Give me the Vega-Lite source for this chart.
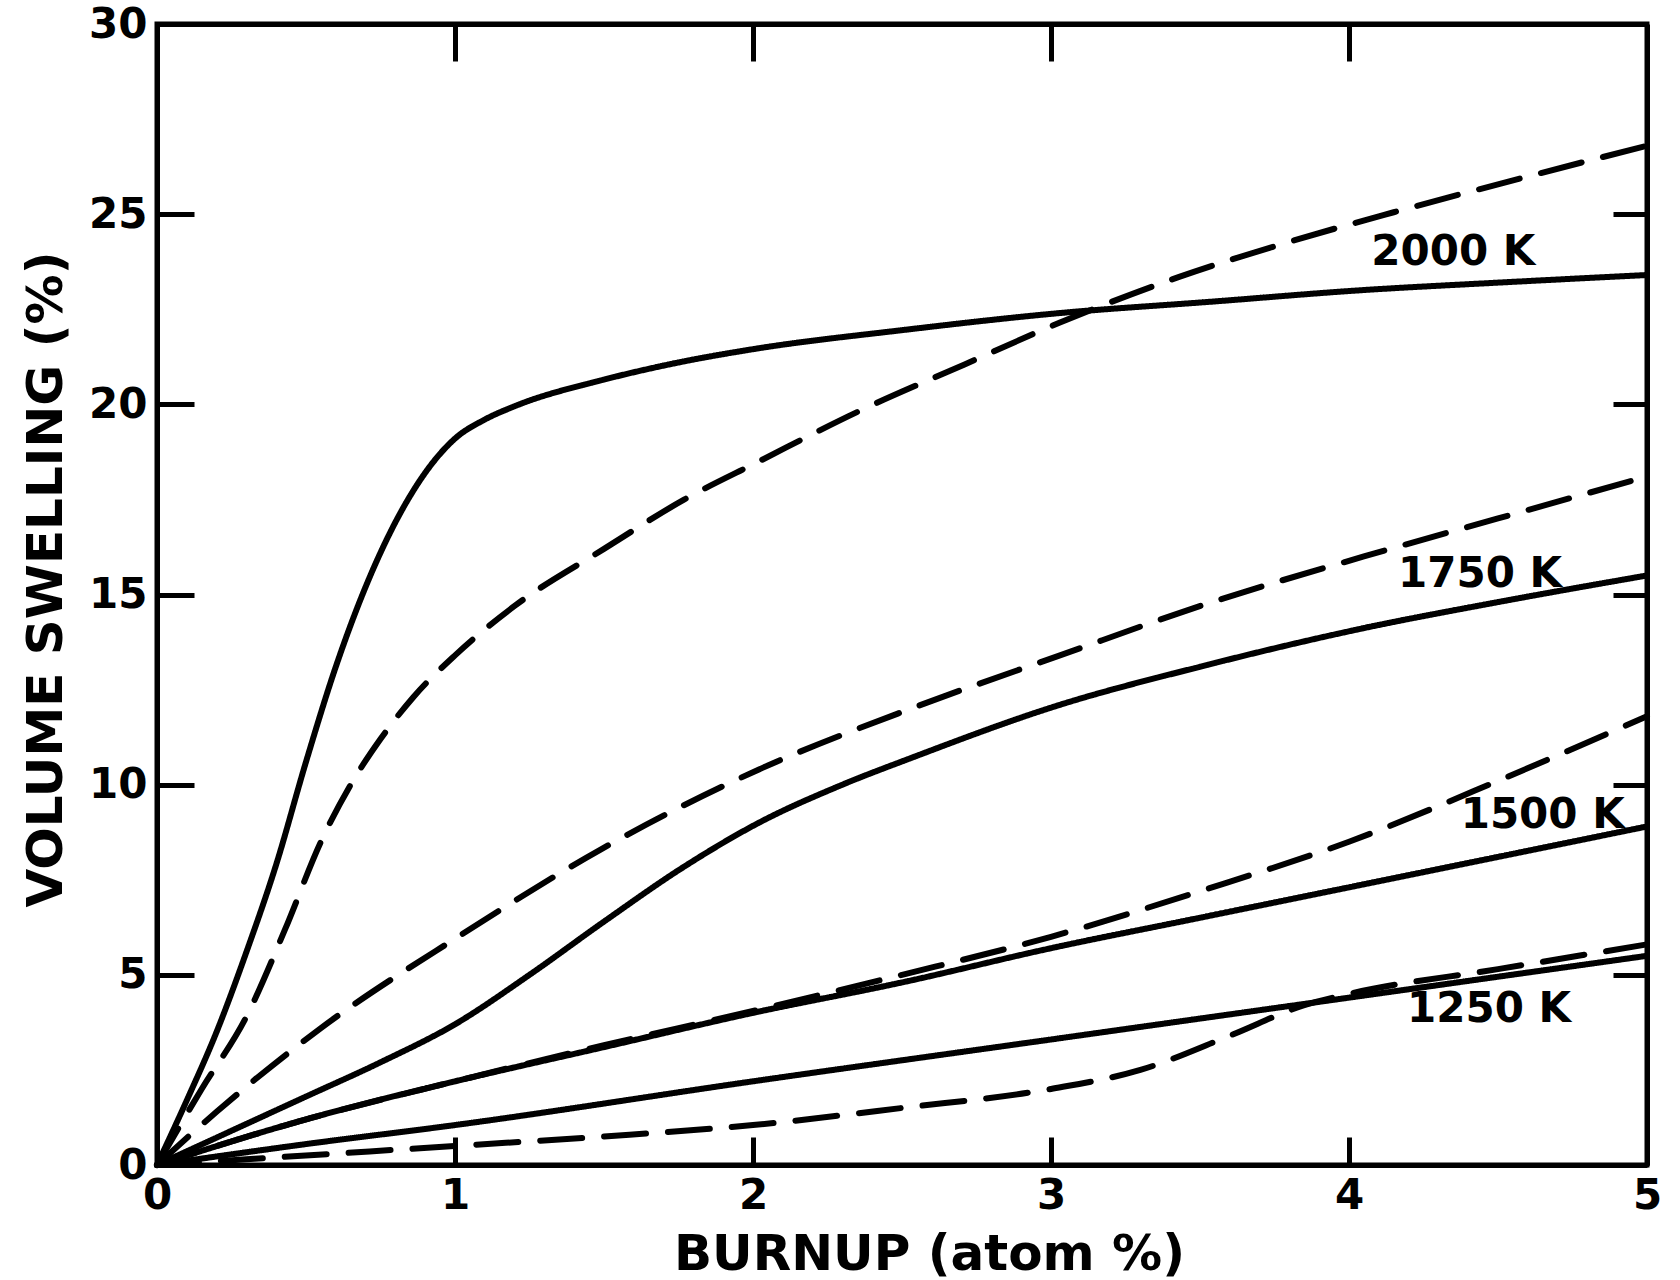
{
  "$schema": "https://vega.github.io/schema/vega-lite/v6.json",
  "width": 1490,
  "height": 1141,
  "autosize": {"type": "none"},
  "padding": {"left": 157, "top": 24, "right": 33, "bottom": 115},
  "background": "white",
  "config": {
    "view": {"stroke": "black", "strokeWidth": 5},
    "axis": {
      "grid": false,
      "domain": true,
      "domainColor": "black",
      "domainWidth": 5,
      "tickColor": "black",
      "tickWidth": 5,
      "labelColor": "black",
      "titleColor": "black",
      "labelFont": "DejaVu Sans",
      "titleFont": "DejaVu Sans",
      "labelFontWeight": "bold",
      "titleFontWeight": "bold",
      "labelFontSize": 42,
      "titleFontSize": 50,
      "labelFlush": false,
      "labelOverlap": false
    }
  },
  "datasets": {
    "curves": [
      {"g": "2000s", "k": "solid", "x": 0, "y": 0},
      {"g": "2000s", "k": "solid", "x": 0.1, "y": 1.7},
      {"g": "2000s", "k": "solid", "x": 0.2, "y": 3.5},
      {"g": "2000s", "k": "solid", "x": 0.3, "y": 5.6},
      {"g": "2000s", "k": "solid", "x": 0.4, "y": 7.9},
      {"g": "2000s", "k": "solid", "x": 0.5, "y": 10.6},
      {"g": "2000s", "k": "solid", "x": 0.6, "y": 13.1},
      {"g": "2000s", "k": "solid", "x": 0.7, "y": 15.2},
      {"g": "2000s", "k": "solid", "x": 0.8, "y": 16.9},
      {"g": "2000s", "k": "solid", "x": 0.9, "y": 18.2},
      {"g": "2000s", "k": "solid", "x": 1.0, "y": 19.1},
      {"g": "2000s", "k": "solid", "x": 1.1, "y": 19.6},
      {"g": "2000s", "k": "solid", "x": 1.2, "y": 19.95},
      {"g": "2000s", "k": "solid", "x": 1.5, "y": 20.65},
      {"g": "2000s", "k": "solid", "x": 1.75, "y": 21.1},
      {"g": "2000s", "k": "solid", "x": 2.0, "y": 21.45},
      {"g": "2000s", "k": "solid", "x": 2.5, "y": 21.95},
      {"g": "2000s", "k": "solid", "x": 3.03, "y": 22.4},
      {"g": "2000s", "k": "solid", "x": 3.54, "y": 22.7},
      {"g": "2000s", "k": "solid", "x": 4.04, "y": 23.0},
      {"g": "2000s", "k": "solid", "x": 4.5, "y": 23.2},
      {"g": "2000s", "k": "solid", "x": 5.0, "y": 23.4},

      {"g": "2000d", "k": "dashed", "x": 0, "y": 0},
      {"g": "2000d", "k": "dashed", "x": 0.15, "y": 2.0},
      {"g": "2000d", "k": "dashed", "x": 0.3, "y": 3.9},
      {"g": "2000d", "k": "dashed", "x": 0.43, "y": 6.2},
      {"g": "2000d", "k": "dashed", "x": 0.55, "y": 8.5},
      {"g": "2000d", "k": "dashed", "x": 0.65, "y": 10.0},
      {"g": "2000d", "k": "dashed", "x": 0.75, "y": 11.2},
      {"g": "2000d", "k": "dashed", "x": 0.86, "y": 12.3},
      {"g": "2000d", "k": "dashed", "x": 1.0, "y": 13.4},
      {"g": "2000d", "k": "dashed", "x": 1.2, "y": 14.7},
      {"g": "2000d", "k": "dashed", "x": 1.5, "y": 16.2},
      {"g": "2000d", "k": "dashed", "x": 1.77, "y": 17.5},
      {"g": "2000d", "k": "dashed", "x": 2.02, "y": 18.5},
      {"g": "2000d", "k": "dashed", "x": 2.35, "y": 19.8},
      {"g": "2000d", "k": "dashed", "x": 2.71, "y": 21.05},
      {"g": "2000d", "k": "dashed", "x": 3.03, "y": 22.15},
      {"g": "2000d", "k": "dashed", "x": 3.43, "y": 23.35},
      {"g": "2000d", "k": "dashed", "x": 3.79, "y": 24.25},
      {"g": "2000d", "k": "dashed", "x": 4.15, "y": 25.05},
      {"g": "2000d", "k": "dashed", "x": 4.58, "y": 25.95},
      {"g": "2000d", "k": "dashed", "x": 5.0, "y": 26.8},

      {"g": "1750s", "k": "solid", "x": 0, "y": 0},
      {"g": "1750s", "k": "solid", "x": 0.25, "y": 0.9},
      {"g": "1750s", "k": "solid", "x": 0.5, "y": 1.8},
      {"g": "1750s", "k": "solid", "x": 0.75, "y": 2.7},
      {"g": "1750s", "k": "solid", "x": 1.0, "y": 3.7},
      {"g": "1750s", "k": "solid", "x": 1.25, "y": 5.0},
      {"g": "1750s", "k": "solid", "x": 1.5, "y": 6.4},
      {"g": "1750s", "k": "solid", "x": 1.77, "y": 7.85},
      {"g": "1750s", "k": "solid", "x": 2.02, "y": 9.0},
      {"g": "1750s", "k": "solid", "x": 2.3, "y": 10.0},
      {"g": "1750s", "k": "solid", "x": 2.53, "y": 10.7},
      {"g": "1750s", "k": "solid", "x": 3.03, "y": 12.1},
      {"g": "1750s", "k": "solid", "x": 3.5, "y": 13.1},
      {"g": "1750s", "k": "solid", "x": 4.04, "y": 14.1},
      {"g": "1750s", "k": "solid", "x": 4.5, "y": 14.8},
      {"g": "1750s", "k": "solid", "x": 5.0, "y": 15.5},

      {"g": "1750d", "k": "dashed", "x": 0, "y": 0},
      {"g": "1750d", "k": "dashed", "x": 0.2, "y": 1.4},
      {"g": "1750d", "k": "dashed", "x": 0.55, "y": 3.6},
      {"g": "1750d", "k": "dashed", "x": 1.01, "y": 6.0},
      {"g": "1750d", "k": "dashed", "x": 1.49, "y": 8.3},
      {"g": "1750d", "k": "dashed", "x": 2.02, "y": 10.4},
      {"g": "1750d", "k": "dashed", "x": 2.53, "y": 12.0},
      {"g": "1750d", "k": "dashed", "x": 3.03, "y": 13.4},
      {"g": "1750d", "k": "dashed", "x": 3.54, "y": 14.8},
      {"g": "1750d", "k": "dashed", "x": 4.05, "y": 16.0},
      {"g": "1750d", "k": "dashed", "x": 4.5, "y": 17.0},
      {"g": "1750d", "k": "dashed", "x": 5.0, "y": 18.1},

      {"g": "1500s", "k": "solid", "x": 0, "y": 0},
      {"g": "1500s", "k": "solid", "x": 0.5, "y": 1.2},
      {"g": "1500s", "k": "solid", "x": 1.0, "y": 2.2},
      {"g": "1500s", "k": "solid", "x": 1.5, "y": 3.1},
      {"g": "1500s", "k": "solid", "x": 2.0, "y": 4.0},
      {"g": "1500s", "k": "solid", "x": 2.5, "y": 4.8},
      {"g": "1500s", "k": "solid", "x": 3.0, "y": 5.7},
      {"g": "1500s", "k": "solid", "x": 3.5, "y": 6.5},
      {"g": "1500s", "k": "solid", "x": 4.0, "y": 7.3},
      {"g": "1500s", "k": "solid", "x": 4.5, "y": 8.1},
      {"g": "1500s", "k": "solid", "x": 5.0, "y": 8.9},

      {"g": "1500d", "k": "dashed", "x": 0, "y": 0},
      {"g": "1500d", "k": "dashed", "x": 0.5, "y": 1.2},
      {"g": "1500d", "k": "dashed", "x": 1.0, "y": 2.2},
      {"g": "1500d", "k": "dashed", "x": 1.5, "y": 3.15},
      {"g": "1500d", "k": "dashed", "x": 2.0, "y": 4.05},
      {"g": "1500d", "k": "dashed", "x": 2.5, "y": 5.0},
      {"g": "1500d", "k": "dashed", "x": 3.0, "y": 6.0},
      {"g": "1500d", "k": "dashed", "x": 3.5, "y": 7.2},
      {"g": "1500d", "k": "dashed", "x": 4.0, "y": 8.5},
      {"g": "1500d", "k": "dashed", "x": 4.5, "y": 10.1},
      {"g": "1500d", "k": "dashed", "x": 5.0, "y": 11.8},

      {"g": "1250s", "k": "solid", "x": 0, "y": 0},
      {"g": "1250s", "k": "solid", "x": 0.5, "y": 0.55},
      {"g": "1250s", "k": "solid", "x": 1.0, "y": 1.05},
      {"g": "1250s", "k": "solid", "x": 2.0, "y": 2.2},
      {"g": "1250s", "k": "solid", "x": 3.0, "y": 3.3},
      {"g": "1250s", "k": "solid", "x": 4.0, "y": 4.4},
      {"g": "1250s", "k": "solid", "x": 5.0, "y": 5.5},

      {"g": "1250d", "k": "dashed", "x": 0, "y": 0},
      {"g": "1250d", "k": "dashed", "x": 0.3, "y": 0.15},
      {"g": "1250d", "k": "dashed", "x": 1.0, "y": 0.5},
      {"g": "1250d", "k": "dashed", "x": 1.5, "y": 0.75},
      {"g": "1250d", "k": "dashed", "x": 2.0, "y": 1.05},
      {"g": "1250d", "k": "dashed", "x": 2.5, "y": 1.5},
      {"g": "1250d", "k": "dashed", "x": 3.0, "y": 2.0},
      {"g": "1250d", "k": "dashed", "x": 3.3, "y": 2.5},
      {"g": "1250d", "k": "dashed", "x": 3.6, "y": 3.4},
      {"g": "1250d", "k": "dashed", "x": 3.85, "y": 4.2},
      {"g": "1250d", "k": "dashed", "x": 4.0, "y": 4.5},
      {"g": "1250d", "k": "dashed", "x": 4.5, "y": 5.15},
      {"g": "1250d", "k": "dashed", "x": 5.0, "y": 5.8}
    ],
    "labels": [
      {"label": "2000 K", "x": 4.35, "y": 24.0},
      {"label": "1750 K", "x": 4.44, "y": 15.55},
      {"label": "1500 K", "x": 4.65, "y": 9.2},
      {"label": "1250 K", "x": 4.47, "y": 4.1}
    ]
  },
  "layer": [
    {
      "data": {"name": "curves"},
      "mark": {"type": "line", "interpolate": "monotone", "color": "black", "strokeWidth": 6, "strokeCap": "round", "strokeJoin": "round"},
      "encoding": {
        "x": {
          "field": "x", "type": "quantitative",
          "scale": {"domain": [0, 5], "nice": false, "zero": false},
          "axis": {
            "orient": "bottom",
            "values": [0, 1, 2, 3, 4, 5],
            "format": "d",
            "tickSize": -28,
            "labelPadding": 38,
            "title": "BURNUP (atom %)",
            "titleX": 772,
            "titleY": 104,
            "titleBaseline": "alphabetic",
            "titleAlign": "center"
          }
        },
        "y": {
          "field": "y", "type": "quantitative",
          "scale": {"domain": [0, 30], "nice": false},
          "axis": {
            "orient": "left",
            "values": [0, 5, 10, 15, 20, 25, 30],
            "format": "d",
            "tickSize": -37,
            "labelPadding": 47,
            "title": "VOLUME SWELLING (%)",
            "titleAngle": -90,
            "titleX": -96,
            "titleY": 555,
            "titleBaseline": "alphabetic",
            "titleAlign": "center"
          }
        },
        "detail": {"field": "g"},
        "strokeDash": {
          "field": "k", "type": "nominal",
          "scale": {"domain": ["solid", "dashed"], "range": [[1, 0], [42, 22]]},
          "legend": null
        }
      }
    },
    {
      "data": {"name": "labels"},
      "mark": {"type": "text", "font": "DejaVu Sans", "fontWeight": "bold", "fontSize": 42, "color": "black", "align": "center", "baseline": "middle"},
      "encoding": {
        "x": {
          "field": "x", "type": "quantitative",
          "axis": {"orient": "top", "values": [1, 2, 3, 4], "labels": false, "tickSize": -37, "title": null}
        },
        "y": {
          "field": "y", "type": "quantitative",
          "axis": {"orient": "right", "values": [5, 10, 15, 20, 25], "labels": false, "tickSize": -34, "title": null}
        },
        "text": {"field": "label"}
      }
    }
  ],
  "resolve": {"axis": {"x": "independent", "y": "independent"}}
}
